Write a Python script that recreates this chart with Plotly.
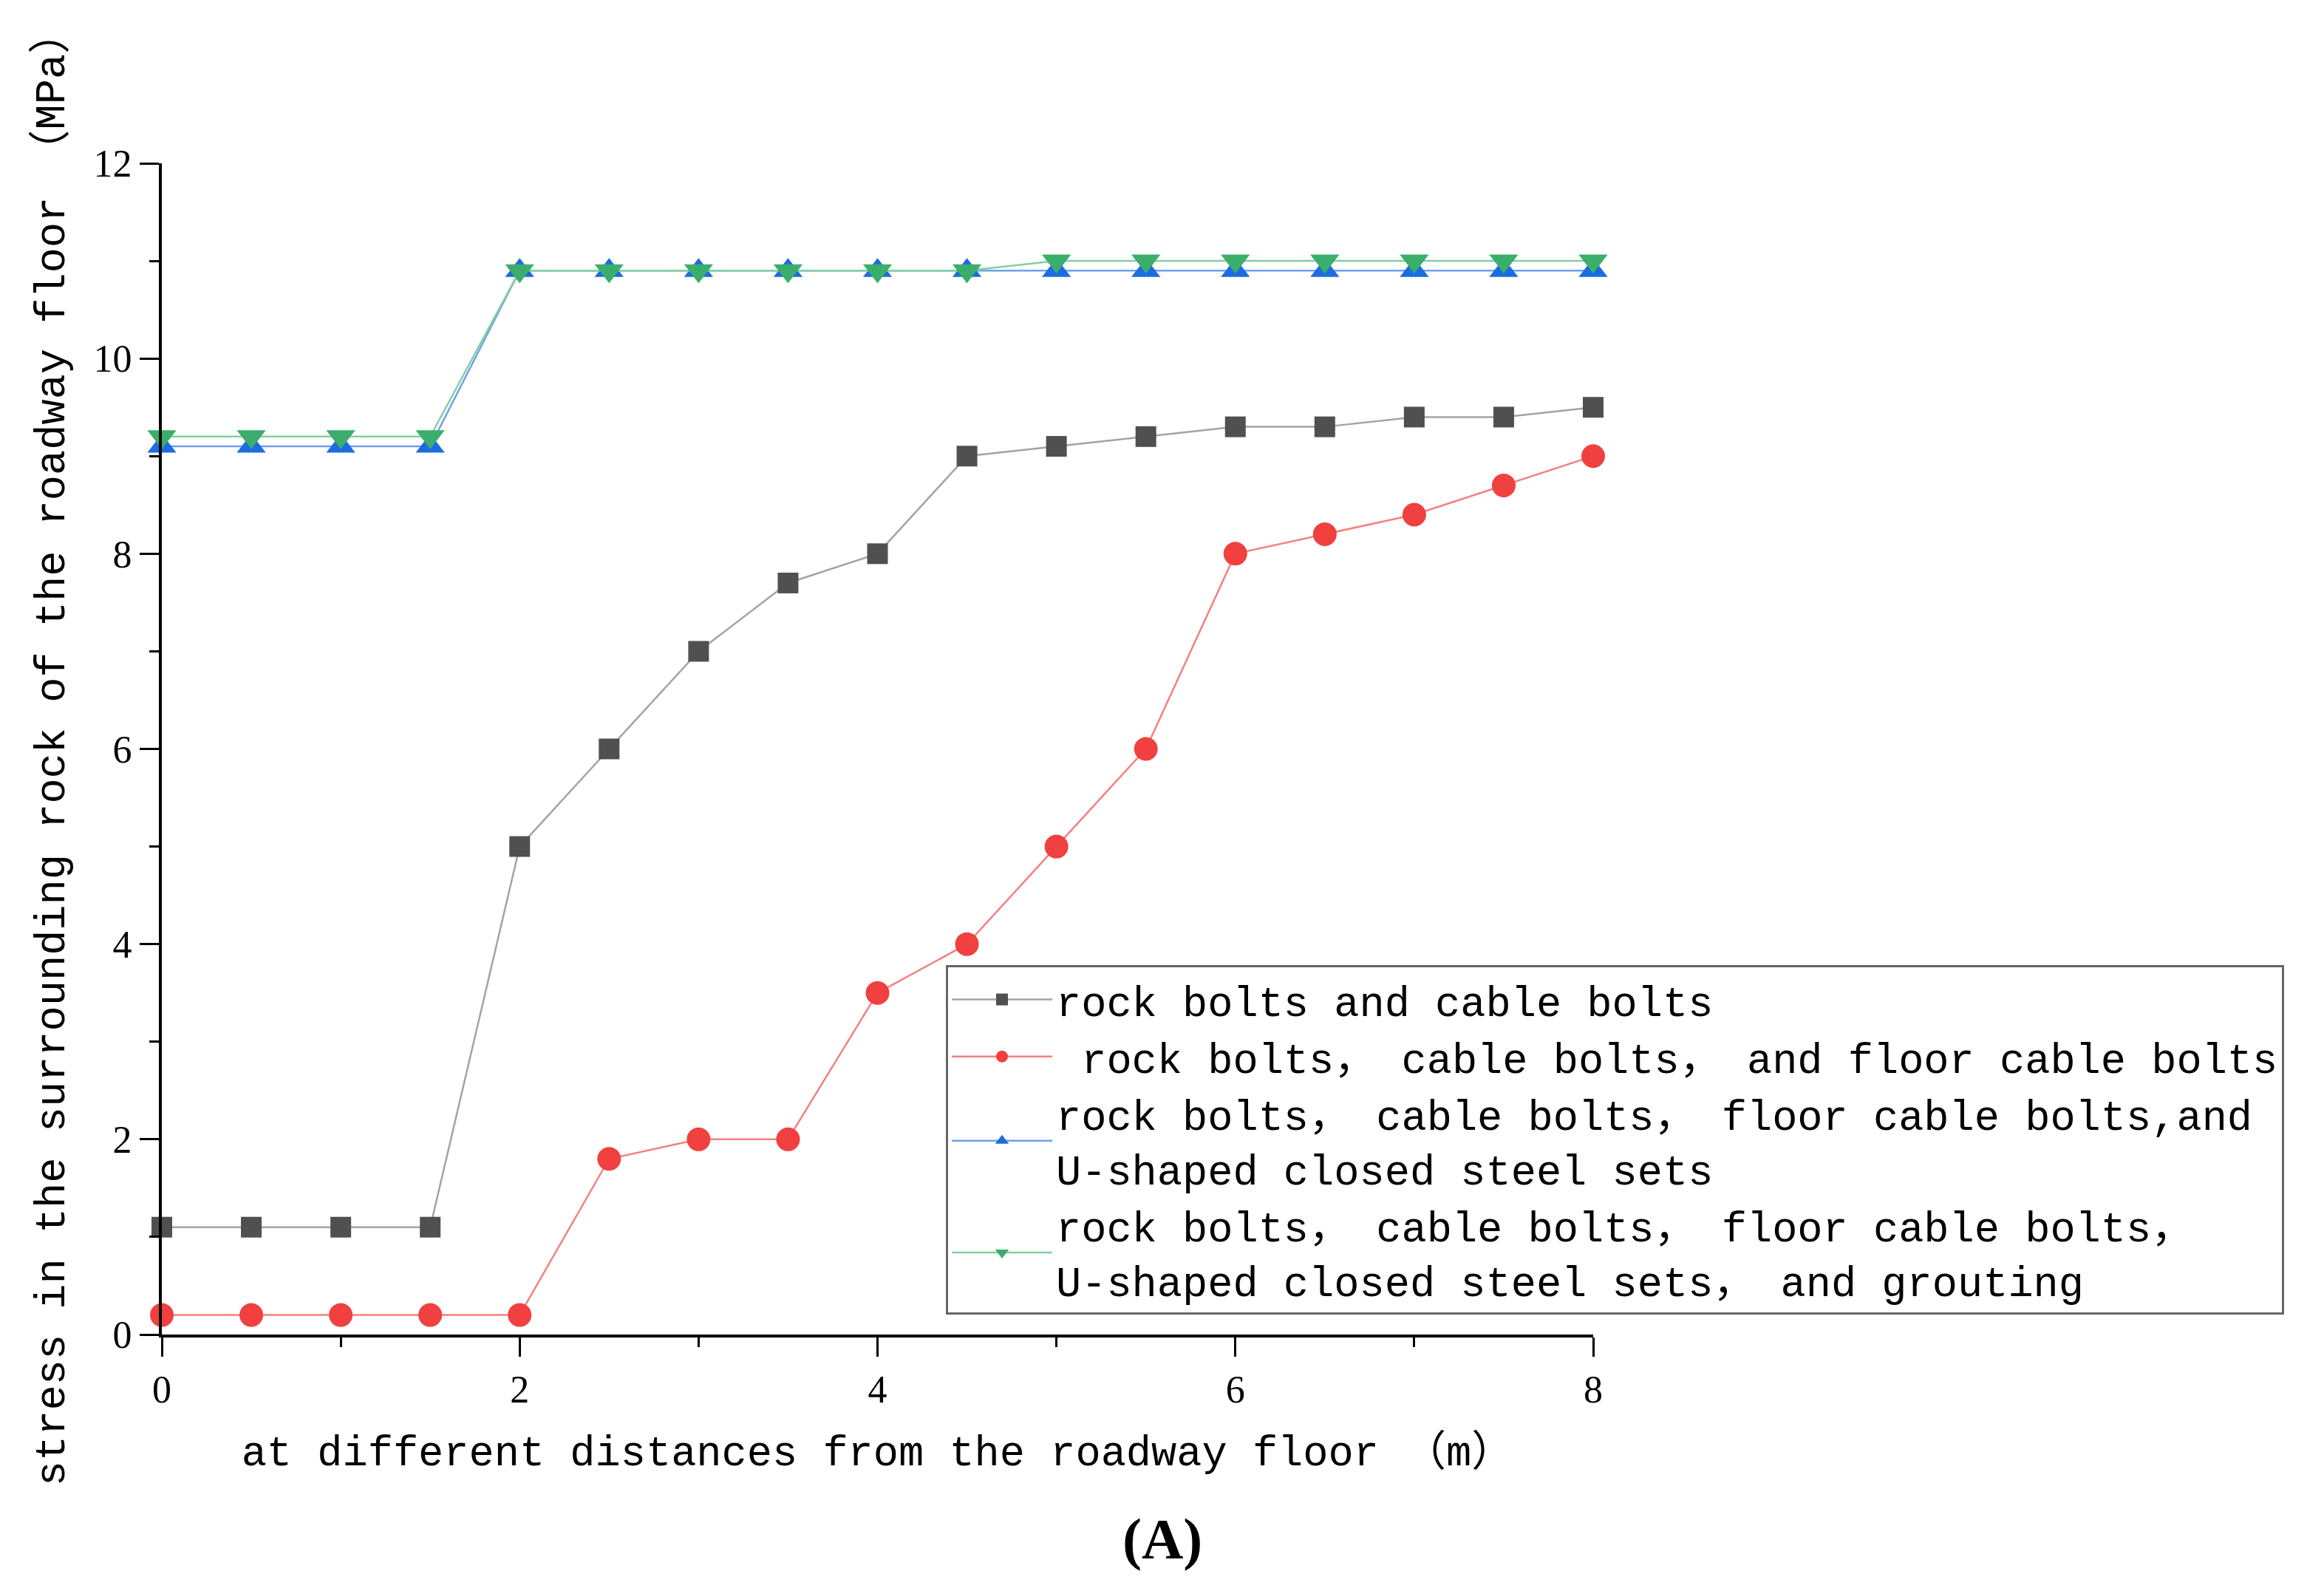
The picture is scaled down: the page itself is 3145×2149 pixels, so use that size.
import plotly.graph_objects as go

x_dist = [0, 0.5, 1, 1.5, 2, 2.5, 3, 3.5, 4, 4.5, 5, 5.5, 6, 6.5, 7, 7.5, 8]
s_bolts_cables = [1.1, 1.1, 1.1, 1.1, 5.0, 6.0, 7.0, 7.7, 8.0, 9.0, 9.1, 9.2, 9.3, 9.3, 9.4, 9.4, 9.5]
s_floor_cables = [0.2, 0.2, 0.2, 0.2, 0.2, 1.8, 2.0, 2.0, 3.5, 4.0, 5.0, 6.0, 8.0, 8.2, 8.4, 8.7, 9.0]
s_u_steel = [9.1, 9.1, 9.1, 9.1, 10.9, 10.9, 10.9, 10.9, 10.9, 10.9, 10.9, 10.9, 10.9, 10.9, 10.9, 10.9, 10.9]
s_grouting = [9.2, 9.2, 9.2, 9.2, 10.9, 10.9, 10.9, 10.9, 10.9, 10.9, 11.0, 11.0, 11.0, 11.0, 11.0, 11.0, 11.0]

names = [
    "rock bolts and cable bolts",
    "\u00a0rock bolts， cable bolts， and floor cable bolts",
    "rock bolts， cable bolts， floor cable bolts,and<br>U-shaped closed steel sets",
    "rock bolts， cable bolts， floor cable bolts，<br>U-shaped closed steel sets， and grouting",
]
x_ticks = [0, 2, 4, 6, 8]
y_ticks = [0, 2, 4, 6, 8, 10, 12]

TEXT_FONT = "Liberation Mono, Noto Sans CJK SC, monospace"
TICK_FONT = "Liberation Serif, Noto Sans CJK SC, serif"

series = [
    (s_bolts_cables, "square", 28, "#505050", "#a3a3a3"),
    (s_floor_cables, "circle", 32, "#f0403f", "#f58080"),
    (s_u_steel, "triangle-up", 34, "#1c6ce0", "#6fa0ee"),
    (s_grouting, "triangle-down", 34, "#3aae6a", "#85cfa0"),
]

fig = go.Figure()
for (vals, sym, size, mcol, lcol), name in zip(series, names):
    fig.add_trace(go.Scatter(
        x=x_dist, y=vals, name=name, mode="lines+markers",
        line=dict(color=lcol, width=2.5),
        marker=dict(symbol=sym, size=size, color=mcol, line=dict(width=0)),
        cliponaxis=False,
    ))

axis_common = dict(
    showline=True, linecolor="black", linewidth=4, mirror=False,
    ticks="outside", ticklen=26, tickwidth=3, tickcolor="black",
    showgrid=False, zeroline=False,
    tickfont=dict(family=TICK_FONT, size=52, color="black"),
)

fig.update_xaxes(
    range=[0, 8], tickvals=x_ticks,
    minor=dict(ticks="outside", ticklen=13, tickwidth=3, dtick=1, tick0=0, tickcolor="black", showgrid=False),
    title=dict(text="at different distances from the roadway floor （m）",
               font=dict(family=TEXT_FONT, size=57, color="black"), standoff=36),
    **axis_common,
)
fig.update_yaxes(
    range=[0, 12], tickvals=y_ticks,
    minor=dict(ticks="outside", ticklen=13, tickwidth=3, dtick=1, tick0=0, tickcolor="black", showgrid=False),
    title=dict(text="stress in the surrounding rock of the roadway floor （MPa）",
               font=dict(family=TEXT_FONT, size=57, color="black"), standoff=22),
    **axis_common,
)

# plot area in figure pixels: left 211, top 213, width 1937, height 1585
fig.add_annotation(
    text="<b>(A)</b>", xref="paper", yref="paper", x=(1565 - 211) / 1937, y=-(2074 - 1798) / 1585,
    xanchor="center", yanchor="middle", showarrow=False,
    font=dict(family="Liberation Serif, serif", size=78, color="black"),
)

fig.update_layout(
    width=3145, height=2149,
    margin=dict(l=211, r=997, t=213, b=351, autoexpand=False),
    paper_bgcolor="white", plot_bgcolor="white",
    showlegend=True,
    legend=dict(
        x=(1272 - 211) / 1937, y=(1798 - 1298) / 1585, xanchor="left", yanchor="top",
        bgcolor="rgba(255,255,255,0)", bordercolor="#666666", borderwidth=3,
        font=dict(family=TEXT_FONT, size=57, color="black"),
        itemwidth=136, tracegroupgap=0, itemsizing="trace",
    ),
)

fig.write_html("out.html")
